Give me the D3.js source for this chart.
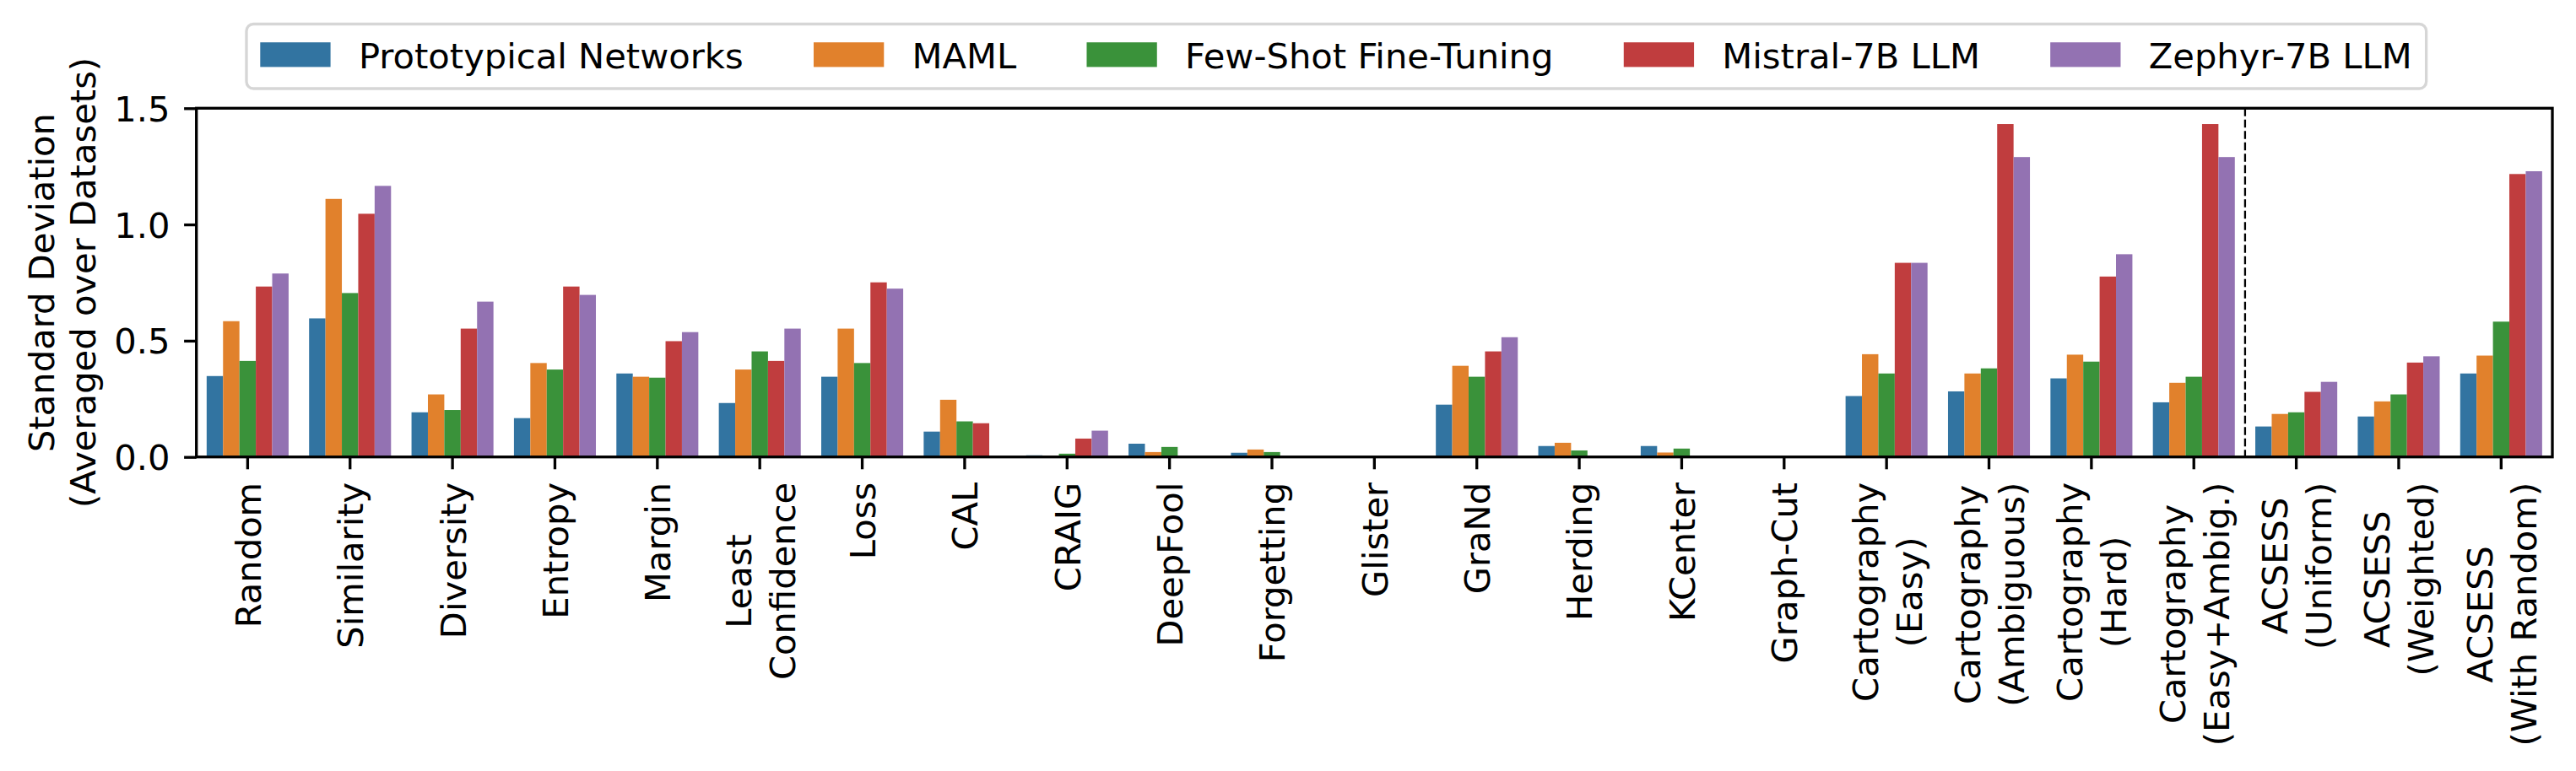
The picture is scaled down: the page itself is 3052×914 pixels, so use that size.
<!DOCTYPE html>
<html>
<head>
<meta charset="utf-8">
<script src="https://cdn.jsdelivr.net/npm/d3@7"></script>
<style>
  body { margin: 0; background: #fff; }
  text { font-family: "DejaVu Sans", sans-serif; }
</style>
</head>
<body>
<svg id="chart" width="3052" height="914"></svg>
<script>
// data
var categories = ["Random", "Similarity", "Diversity", "Entropy", "Margin", "Least\nConfidence",
  "Loss", "CAL", "CRAIG", "DeepFool", "Forgetting", "Glister", "GraNd", "Herding", "KCenter",
  "Graph-Cut", "Cartography\n(Easy)", "Cartography\n(Ambiguous)", "Cartography\n(Hard)",
  "Cartography\n(Easy+Ambig.)", "ACSESS\n(Uniform)", "ACSESS\n(Weighted)", "ACSESS\n(With Random)"];

var seriesNames = ["Prototypical Networks", "MAML", "Few-Shot Fine-Tuning", "Mistral-7B LLM", "Zephyr-7B LLM"];

var protoNet = [0.348, 0.596, 0.192, 0.167, 0.359, 0.232, 0.345, 0.109, 0.007, 0.057, 0.018, 0, 0.225, 0.047, 0.047, 0, 0.262, 0.282, 0.338, 0.235, 0.131, 0.174, 0.359];
var maml     = [0.584, 1.110, 0.269, 0.404, 0.345, 0.376, 0.552, 0.246, 0.006, 0.021, 0.032, 0, 0.392, 0.061, 0.019, 0, 0.442, 0.359, 0.440, 0.319, 0.185, 0.239, 0.436];
var fewShot  = [0.413, 0.705, 0.202, 0.376, 0.341, 0.454, 0.404, 0.153, 0.014, 0.043, 0.021, 0, 0.345, 0.028, 0.036, 0, 0.359, 0.381, 0.410, 0.345, 0.192, 0.269, 0.582];
var mistral  = [0.733, 1.046, 0.552, 0.733, 0.498, 0.413, 0.751, 0.145, 0.079, 0, 0, 0, 0.454, 0, 0, 0, 0.835, 1.432, 0.776, 1.432, 0.280, 0.406, 1.217];
var zephyr   = [0.789, 1.166, 0.668, 0.697, 0.537, 0.552, 0.724, 0, 0.113, 0, 0, 0, 0.515, 0, 0, 0, 0.835, 1.290, 0.872, 1.290, 0.323, 0.433, 1.229];

var yTicks = [0, 0.5, 1.0, 1.5];
var colors = ["#3274a1", "#e1812c", "#3a923a", "#c03d3e", "#9372b2"];

var allSeries = [protoNet, maml, fewShot, mistral, zephyr];

var fs = 41.67;          // 10pt at 300 dpi
var lw = 3.33;           // 0.8pt
var plotL = 232.7, plotR = 3024, plotT = 128.3, plotB = 541.7;

var svg = d3.select('#chart');

var x = d3.scaleBand()
  .domain(categories)
  .range([plotL, plotR])
  .padding(0);

var inner = d3.scaleBand()
  .domain(seriesNames)
  .range([0.1 * x.bandwidth(), 0.9 * x.bandwidth()])
  .padding(0);

var y = d3.scaleLinear()
  .domain([0, 1.5])
  .range([plotB, plotT]);

// bars
var rows = [];
categories.forEach(function(c, i) {
  seriesNames.forEach(function(s, j) {
    rows.push({cat: c, series: s, value: allSeries[j][i], color: colors[j]});
  });
});

svg.append('g')
  .selectAll('rect')
  .data(rows.filter(function(d) { return d.value > 0; }))
  .join('rect')
    .attr('x', function(d) { return x(d.cat) + inner(d.series); })
    .attr('y', function(d) { return y(d.value); })
    .attr('width', inner.bandwidth())
    .attr('height', function(d) { return y(0) - y(d.value); })
    .attr('fill', function(d) { return d.color; });

// dashed separator between Cartography and ACSESS
var sepX = x(categories[20]);
svg.append('line')
  .attr('x1', sepX).attr('x2', sepX)
  .attr('y1', plotT).attr('y2', plotB)
  .attr('stroke', '#000')
  .attr('stroke-width', 2.3)
  .attr('stroke-dasharray', '9.5,4');

// y axis
var axisY = d3.axisLeft(y)
  .tickValues(yTicks)
  .tickFormat(d3.format('.1f'))
  .tickSize(14.6)
  .tickPadding(16.6);

var gy = svg.append('g')
  .attr('transform', 'translate(' + plotL + ',0)')
  .call(axisY);
gy.select('.domain').remove();
gy.selectAll('line').attr('stroke-width', lw);
gy.selectAll('text')
  .attr('font-size', fs)
  .attr('font-family', 'DejaVu Sans')
  .attr('fill', '#000')
  .attr('dy', '0.36em');

// x axis
var axisX = d3.axisBottom(x)
  .tickSize(14.6)
  .tickFormat('');

var gx = svg.append('g')
  .attr('transform', 'translate(0,' + plotB + ')')
  .call(axisX);
gx.select('.domain').remove();
gx.selectAll('line').attr('stroke-width', lw);

// multi-line rotated x tick labels
var labelTop = plotB + 14.6 + 15.5;
var lineGap = 52;
categories.forEach(function(c) {
  var lines = c.split('\n');
  var cx = x(c) + x.bandwidth() / 2;
  var g = svg.append('g')
    .attr('transform', 'translate(' + cx + ',' + labelTop + ') rotate(-90)');
  var texts = lines.map(function(l, i) {
    return g.append('text')
      .attr('font-size', fs)
      .attr('text-anchor', 'middle')
      .attr('y', (i - (lines.length - 1) / 2) * lineGap + 0.37 * fs)
      .text(l);
  });
  var maxLen = d3.max(texts, function(t) { return t.node().getComputedTextLength(); });
  texts.forEach(function(t) { t.attr('x', -maxLen / 2); });
});

// y axis label
var yl = svg.append('g')
  .attr('transform', 'translate(0,' + ((plotT + plotB) / 2) + ') rotate(-90)');
yl.append('text')
  .attr('font-size', fs)
  .attr('text-anchor', 'middle')
  .attr('y', 63.5)
  .text('Standard Deviation');
yl.append('text')
  .attr('font-size', fs)
  .attr('text-anchor', 'middle')
  .attr('y', 112.5)
  .text('(Averaged over Datasets)');

// frame
svg.append('rect')
  .attr('x', plotL).attr('y', plotT)
  .attr('width', plotR - plotL).attr('height', plotB - plotT)
  .attr('fill', 'none')
  .attr('stroke', '#000')
  .attr('stroke-width', lw);

// legend
var legend = svg.append('g');
var box = legend.append('rect');
var lx = 308.3;
seriesNames.forEach(function(s, j) {
  legend.append('rect')
    .attr('x', lx).attr('y', 50.2)
    .attr('width', 83.3).attr('height', 29.2)
    .attr('fill', colors[j]);
  var t = legend.append('text')
    .attr('x', lx + 83.3 + 33.3)
    .attr('y', 80.5)
    .attr('font-size', fs)
    .text(s);
  lx = lx + 83.3 + 33.3 + t.node().getComputedTextLength();
  if (j < seriesNames.length - 1) lx += 83.3;
});
box
  .attr('x', 292).attr('y', 28.5)
  .attr('width', lx + 17 - 292).attr('height', 76.5)
  .attr('rx', 8.3)
  .attr('fill', '#fff')
  .attr('stroke', '#d6d6d6')
  .attr('stroke-width', lw);
</script>
</body>
</html>
